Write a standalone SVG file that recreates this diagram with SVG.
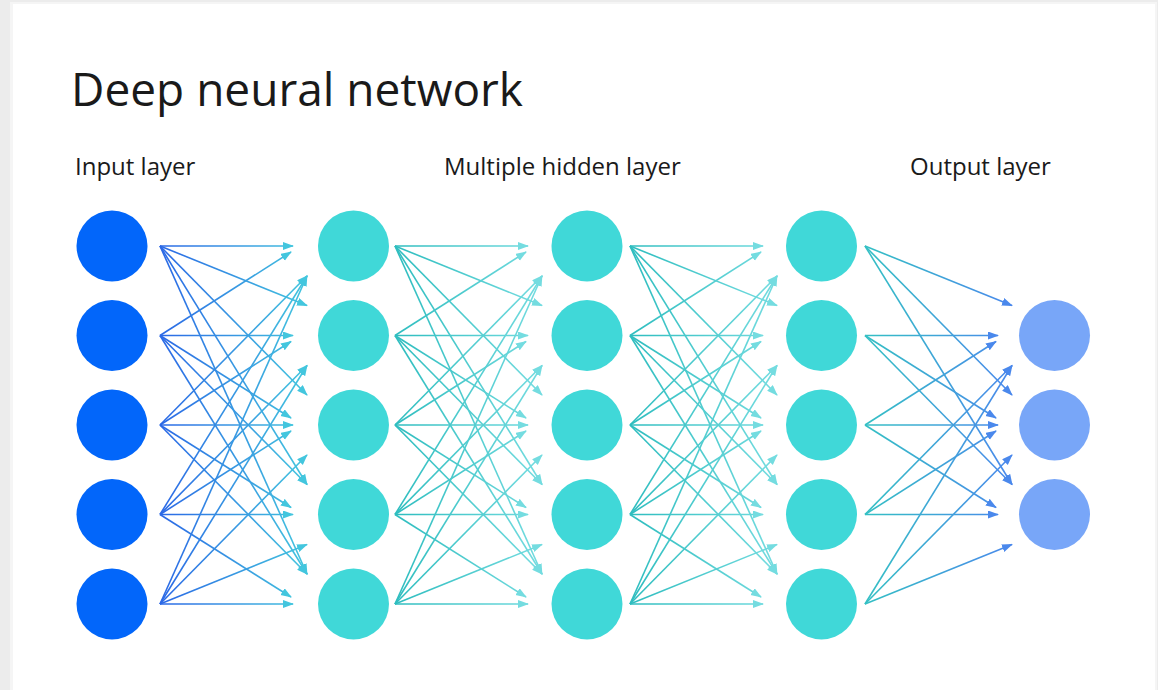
<svg xmlns="http://www.w3.org/2000/svg" width="1158" height="690" viewBox="0 0 1158 690">
<defs>
<style>
.title{font-family:"Open Sans","Liberation Sans",sans-serif;font-size:46px;fill:#1a1a1a}
.lbl{font-family:"Open Sans","Liberation Sans",sans-serif;font-size:24px;fill:#1a1a1a}
.in{fill:#0266FA}
.hid{fill:#40D8D8}
.out{fill:#78A6F8}
.c1 line{stroke:url(#g1);stroke-width:1.6;fill:none;marker-end:url(#m1)}
.c2 line{stroke:url(#g2);stroke-width:1.6;fill:none;marker-end:url(#m2)}
.c3 line{stroke:url(#g3);stroke-width:1.6;fill:none;marker-end:url(#m2)}
.c4 line{stroke:url(#g4);stroke-width:1.6;fill:none;marker-end:url(#m4)}
</style>
<linearGradient id="g1" gradientUnits="userSpaceOnUse" x1="160" y1="0" x2="307" y2="0"><stop offset="0" stop-color="#2B68E6"/><stop offset="1" stop-color="#43C6DE"/></linearGradient>
<linearGradient id="g2" gradientUnits="userSpaceOnUse" x1="395" y1="0" x2="542" y2="0"><stop offset="0" stop-color="#2EBDBF"/><stop offset="1" stop-color="#74DCE0"/></linearGradient>
<linearGradient id="g3" gradientUnits="userSpaceOnUse" x1="630" y1="0" x2="777" y2="0"><stop offset="0" stop-color="#2EBDBF"/><stop offset="1" stop-color="#74DCE0"/></linearGradient>
<linearGradient id="g4" gradientUnits="userSpaceOnUse" x1="865" y1="0" x2="1012" y2="0"><stop offset="0" stop-color="#34C0C4"/><stop offset="1" stop-color="#4A88EC"/></linearGradient>
<marker id="m1" markerUnits="userSpaceOnUse" markerWidth="12" markerHeight="9" refX="10" refY="4" orient="auto"><path d="M0,0 L11,4 L0,8 Z" fill="#43C6DE"/></marker>
<marker id="m2" markerUnits="userSpaceOnUse" markerWidth="12" markerHeight="9" refX="10" refY="4" orient="auto"><path d="M0,0 L11,4 L0,8 Z" fill="#74DCE0"/></marker>
<marker id="m4" markerUnits="userSpaceOnUse" markerWidth="12" markerHeight="9" refX="10" refY="4" orient="auto"><path d="M0,0 L11,4 L0,8 Z" fill="#4A88EC"/></marker>
</defs>
<rect x="0" y="0" width="1158" height="690" fill="#ECECEC"/>
<rect x="10" y="2" width="1147" height="700" fill="#F5F5F5"/>
<rect x="13" y="4" width="1142" height="700" fill="#FFFFFF"/>
<text class="title" x="71" y="106">Deep neural network</text>
<text class="lbl" x="75" y="175">Input layer</text>
<text class="lbl" x="444" y="175">Multiple hidden layer</text>
<text class="lbl" x="910" y="175">Output layer</text>
<g id="connectors">
<g class="c1">
<line x1="160" y1="246" x2="293" y2="246"/>
<line x1="160" y1="246" x2="307" y2="305.5"/>
<line x1="160" y1="246" x2="307" y2="395"/>
<line x1="160" y1="246" x2="307" y2="484.5"/>
<line x1="160" y1="246" x2="307" y2="574"/>
<line x1="160" y1="335.5" x2="291" y2="252"/>
<line x1="160" y1="335.5" x2="293" y2="335.5"/>
<line x1="160" y1="335.5" x2="291" y2="418"/>
<line x1="160" y1="335.5" x2="307" y2="484.5"/>
<line x1="160" y1="335.5" x2="307" y2="574"/>
<line x1="160" y1="425" x2="307" y2="276"/>
<line x1="160" y1="425" x2="291" y2="341.5"/>
<line x1="160" y1="425" x2="293" y2="425"/>
<line x1="160" y1="425" x2="291" y2="507.5"/>
<line x1="160" y1="425" x2="307" y2="574"/>
<line x1="160" y1="514.5" x2="307" y2="276"/>
<line x1="160" y1="514.5" x2="307" y2="365.5"/>
<line x1="160" y1="514.5" x2="291" y2="431"/>
<line x1="160" y1="514.5" x2="293" y2="514.5"/>
<line x1="160" y1="514.5" x2="291" y2="597"/>
<line x1="160" y1="604" x2="307" y2="276"/>
<line x1="160" y1="604" x2="307" y2="365.5"/>
<line x1="160" y1="604" x2="307" y2="455"/>
<line x1="160" y1="604" x2="307" y2="544.5"/>
<line x1="160" y1="604" x2="293" y2="604"/>
</g>
<g class="c2">
<line x1="395" y1="246" x2="528" y2="246"/>
<line x1="395" y1="246" x2="542" y2="305.5"/>
<line x1="395" y1="246" x2="542" y2="395"/>
<line x1="395" y1="246" x2="542" y2="484.5"/>
<line x1="395" y1="246" x2="542" y2="574"/>
<line x1="395" y1="335.5" x2="526" y2="252"/>
<line x1="395" y1="335.5" x2="528" y2="335.5"/>
<line x1="395" y1="335.5" x2="526" y2="418"/>
<line x1="395" y1="335.5" x2="542" y2="484.5"/>
<line x1="395" y1="335.5" x2="542" y2="574"/>
<line x1="395" y1="425" x2="542" y2="276"/>
<line x1="395" y1="425" x2="526" y2="341.5"/>
<line x1="395" y1="425" x2="528" y2="425"/>
<line x1="395" y1="425" x2="526" y2="507.5"/>
<line x1="395" y1="425" x2="542" y2="574"/>
<line x1="395" y1="514.5" x2="542" y2="276"/>
<line x1="395" y1="514.5" x2="542" y2="365.5"/>
<line x1="395" y1="514.5" x2="526" y2="431"/>
<line x1="395" y1="514.5" x2="528" y2="514.5"/>
<line x1="395" y1="514.5" x2="526" y2="597"/>
<line x1="395" y1="604" x2="542" y2="276"/>
<line x1="395" y1="604" x2="542" y2="365.5"/>
<line x1="395" y1="604" x2="542" y2="455"/>
<line x1="395" y1="604" x2="542" y2="544.5"/>
<line x1="395" y1="604" x2="528" y2="604"/>
</g>
<g class="c3">
<line x1="630" y1="246" x2="763" y2="246"/>
<line x1="630" y1="246" x2="777" y2="305.5"/>
<line x1="630" y1="246" x2="777" y2="395"/>
<line x1="630" y1="246" x2="777" y2="484.5"/>
<line x1="630" y1="246" x2="777" y2="574"/>
<line x1="630" y1="335.5" x2="761" y2="252"/>
<line x1="630" y1="335.5" x2="763" y2="335.5"/>
<line x1="630" y1="335.5" x2="761" y2="418"/>
<line x1="630" y1="335.5" x2="777" y2="484.5"/>
<line x1="630" y1="335.5" x2="777" y2="574"/>
<line x1="630" y1="425" x2="777" y2="276"/>
<line x1="630" y1="425" x2="761" y2="341.5"/>
<line x1="630" y1="425" x2="763" y2="425"/>
<line x1="630" y1="425" x2="761" y2="507.5"/>
<line x1="630" y1="425" x2="777" y2="574"/>
<line x1="630" y1="514.5" x2="777" y2="276"/>
<line x1="630" y1="514.5" x2="777" y2="365.5"/>
<line x1="630" y1="514.5" x2="761" y2="431"/>
<line x1="630" y1="514.5" x2="763" y2="514.5"/>
<line x1="630" y1="514.5" x2="761" y2="597"/>
<line x1="630" y1="604" x2="777" y2="276"/>
<line x1="630" y1="604" x2="777" y2="365.5"/>
<line x1="630" y1="604" x2="777" y2="455"/>
<line x1="630" y1="604" x2="777" y2="544.5"/>
<line x1="630" y1="604" x2="763" y2="604"/>
</g>
<g class="c4">
<line x1="865" y1="246" x2="1012" y2="305.5"/>
<line x1="865" y1="246" x2="1012" y2="395"/>
<line x1="865" y1="246" x2="1012" y2="484.5"/>
<line x1="865" y1="335.5" x2="998" y2="335.5"/>
<line x1="865" y1="335.5" x2="996" y2="418"/>
<line x1="865" y1="335.5" x2="1012" y2="484.5"/>
<line x1="865" y1="425" x2="996" y2="341.5"/>
<line x1="865" y1="425" x2="998" y2="425"/>
<line x1="865" y1="425" x2="996" y2="507.5"/>
<line x1="865" y1="514.5" x2="1012" y2="365.5"/>
<line x1="865" y1="514.5" x2="996" y2="431"/>
<line x1="865" y1="514.5" x2="998" y2="514.5"/>
<line x1="865" y1="604" x2="1012" y2="365.5"/>
<line x1="865" y1="604" x2="1012" y2="455"/>
<line x1="865" y1="604" x2="1012" y2="544.5"/>
</g>
</g>
<g id="input-1"><circle class="in" cx="112" cy="246" r="35.5"/></g>
<g id="input-2"><circle class="in" cx="112" cy="335.5" r="35.5"/></g>
<g id="input-3"><circle class="in" cx="112" cy="425" r="35.5"/></g>
<g id="input-4"><circle class="in" cx="112" cy="514.5" r="35.5"/></g>
<g id="input-5"><circle class="in" cx="112" cy="604" r="35.5"/></g>
<g id="hidden1-1"><circle class="hid" cx="353.5" cy="246" r="35.5"/></g>
<g id="hidden1-2"><circle class="hid" cx="353.5" cy="335.5" r="35.5"/></g>
<g id="hidden1-3"><circle class="hid" cx="353.5" cy="425" r="35.5"/></g>
<g id="hidden1-4"><circle class="hid" cx="353.5" cy="514.5" r="35.5"/></g>
<g id="hidden1-5"><circle class="hid" cx="353.5" cy="604" r="35.5"/></g>
<g id="hidden2-1"><circle class="hid" cx="587" cy="246" r="35.5"/></g>
<g id="hidden2-2"><circle class="hid" cx="587" cy="335.5" r="35.5"/></g>
<g id="hidden2-3"><circle class="hid" cx="587" cy="425" r="35.5"/></g>
<g id="hidden2-4"><circle class="hid" cx="587" cy="514.5" r="35.5"/></g>
<g id="hidden2-5"><circle class="hid" cx="587" cy="604" r="35.5"/></g>
<g id="hidden3-1"><circle class="hid" cx="821.5" cy="246" r="35.5"/></g>
<g id="hidden3-2"><circle class="hid" cx="821.5" cy="335.5" r="35.5"/></g>
<g id="hidden3-3"><circle class="hid" cx="821.5" cy="425" r="35.5"/></g>
<g id="hidden3-4"><circle class="hid" cx="821.5" cy="514.5" r="35.5"/></g>
<g id="hidden3-5"><circle class="hid" cx="821.5" cy="604" r="35.5"/></g>
<g id="output-1"><circle class="out" cx="1054.5" cy="335.5" r="35.5"/></g>
<g id="output-2"><circle class="out" cx="1054.5" cy="425" r="35.5"/></g>
<g id="output-3"><circle class="out" cx="1054.5" cy="514.5" r="35.5"/></g>
</svg>
